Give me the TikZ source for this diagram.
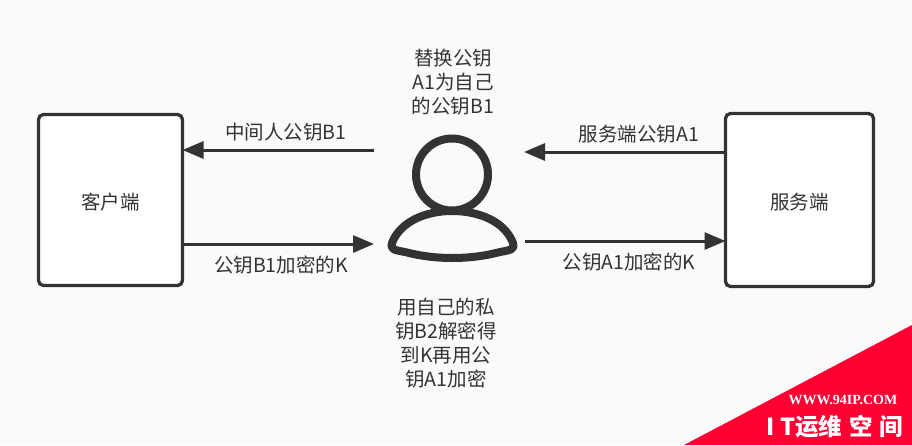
\documentclass[tikz,border=0pt]{standalone}
\usepackage{fontspec}
\newfontfamily\cjk{Noto Sans CJK SC}
\usetikzlibrary{arrows.meta,positioning}
\definecolor{inkgrey}{HTML}{333333}
\definecolor{paper}{HTML}{FAFAFA}
\definecolor{markred}{HTML}{FF0033}
\tikzset{
    %Define standard arrow tip
    >={Triangle[length=21pt,width=17pt]},
    party/.style={
      rectangle,
      rounded corners=5pt,
      draw=inkgrey, line width=3.3pt,
      fill=white,
      text=inkgrey,
      inner sep=0pt,
      outer sep=0pt,
      text height=21.5pt,
      text depth=2.4pt,
      font=\cjk\fontsize{19.5}{24}\selectfont},
    msg/.style={
      text=inkgrey,
      inner sep=0pt,
      font=\cjk\fontsize{19.5}{24}\selectfont},
    note/.style={
      msg,
      align=center},
    flow/.style={
      ->,
      draw=inkgrey, line width=3pt},
    figure/.style={
      draw=inkgrey, line width=8pt},
}
\begin{document}
\begin{tikzpicture}[x=1pt,y=-1pt]
    \useasboundingbox (0,0) rectangle (912,445);
    \fill [paper] (0,0) rectangle (912,445);
    \node (client) [party,minimum width=144pt,minimum height=171pt] at (110.5,200)
          {客户端};
    \node (server) [party,minimum width=148pt,minimum height=173pt] at (799.5,200)
          {服务端};
    % the man in the middle
    \node (head) [figure,circle,inner sep=0pt,minimum size=72pt] at (452,174.5) {};
    \coordinate (body) at (452,211);
    \draw [figure,line join=round] (body)
          .. controls (480,211) and (505,222) .. (513,243)
          .. controls (515,250) and (510,250) .. (500,252)
          .. controls (470,260) and (435,260) .. (405,252)
          .. controls (395,250) and (390,250) .. (392,243)
          .. controls (400,222) and (425,211) .. cycle;
    \coordinate (midLeftTop) at (374,150);
    \coordinate (midLeftLow) at (374,244);
    \coordinate (midRightTop) at (524,152);
    \coordinate (midRightLow) at (525,241);
    \draw [flow] (midLeftTop) -- (client.east |- midLeftTop);
    \draw [flow] (client.east |- midLeftLow) -- (midLeftLow);
    \draw [flow] (server.west |- midRightTop) -- (midRightTop);
    \draw [flow] (midRightLow) -- (server.west |- midRightLow);
    \node (fakeKey) [msg] at (286,132) {中间人公钥B1};
    \node (fakeEnc) [msg] at (281,265) {公钥B1加密的K};
    \node (realKey) [msg] at (639,134) {服务端公钥A1};
    \node (realEnc) [msg] at (629,262) {公钥A1加密的K};
    \node (swapNote) [note] at (453,82.5)
          {替换公钥\\A1为自己\\的公钥B1};
    \node (decNote) [note] at (446,343)
          {用自己的私\\钥B2解密得\\到K再用公\\钥A1加密};
    % watermark corner
    \fill [markred] (912,325) -- (912,445) -- (684,445) -- cycle;
    \node (siteUrl) [text=white,inner sep=0pt,font=\fontspec{Liberation Serif}\bfseries\fontsize{14}{14}\selectfont] at (843,400)
          {WWW.94IP.COM};
    \node (siteName) [text=white,inner sep=0pt,font=\cjk\bfseries\fontsize{23.5}{23.5}\selectfont] at (835,427)
          {I\hspace{5pt}T运维\hspace{7pt}空\hspace{7pt}间};
\end{tikzpicture}
\end{document}
